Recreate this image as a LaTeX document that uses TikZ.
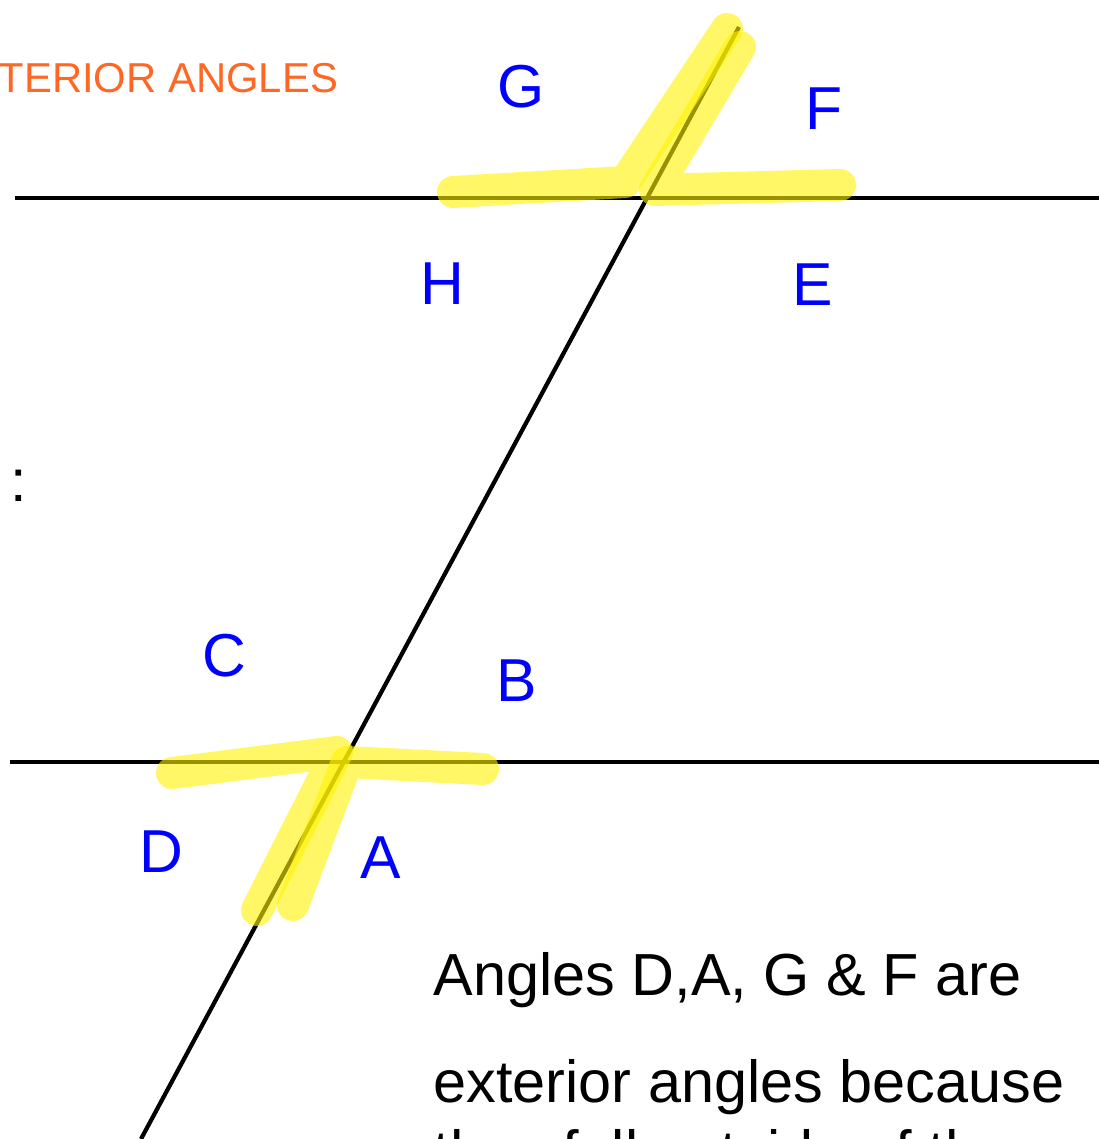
\documentclass[tikz,border=0pt]{standalone}
\usepackage{fontspec}
\setmainfont{Liberation Sans}
\definecolor{titleorange}{RGB}{255,104,36}
\definecolor{labelblue}{RGB}{0,0,255}
\tikzset{
  anglabel/.style={text=labelblue, font=\fontsize{34.5}{40}\selectfont, inner sep=0pt},
  marker/.style={yellow, opacity=0.6, line width=0.64cm, line cap=round, line join=round},
  bodytext/.style={anchor=base west, inner sep=0pt, font=\fontsize{33.8}{40}\selectfont}
}
\begin{document}
\begin{tikzpicture}[x=0.02cm, y=-0.02cm, thick]
    \useasboundingbox (0,0) rectangle (1099,1139);
    \clip (0,0) rectangle (1099,1139);

    % Parallel lines and transversal
    \coordinate (topL) at (15,198);
    \coordinate (topR) at (1099,198);
    \coordinate (botL) at (10,762);
    \coordinate (botR) at (1099,762);
    \coordinate (trTop) at (739,27);
    \coordinate (trBot) at (141,1139);
    \draw[line width=2.6pt] (topL) -- (topR);
    \draw[line width=2.6pt] (botL) -- (botR);
    \draw[line width=2.4pt] (trTop) -- (trBot);

    % Highlighted exterior angles (top)
    \draw[marker] (453,192) -- (625,182) -- (727,29);
    \draw[marker] (840,185) -- (655,190) -- (740,47);
    % Highlighted exterior angles (bottom)
    \draw[marker] (172,773) -- (337,752) -- (257,910);
    \draw[marker] (483,769) -- (347,762) -- (293,905);

    % Angle labels
    \node[anglabel] (G) at (521,87) {G};
    \node[anglabel] (F) at (824,109) {F};
    \node[anglabel] (H) at (442,284) {H};
    \node[anglabel] (E) at (813,285) {E};
    \node[anglabel] (C) at (224,656) {C};
    \node[anglabel] (B) at (517,681) {B};
    \node[anglabel] (D) at (161,852) {D};
    \node[anglabel] (A) at (381,858) {A};

    % Texts
    \node[anchor=base west, inner sep=0pt, text=titleorange,
          font=\fontsize{23.8}{28}\selectfont] (title) at (-2,92) {TERIOR ANGLES};
    \node[bodytext] (colon) at (10,501) {:};
    \node[bodytext] (line1) at (433,995) {Angles D,A, G \& F are};
    \node[bodytext] (line2) at (433,1102) {exterior angles because};
    \node[bodytext] (line3) at (433,1172) {they fall outside of the};
\end{tikzpicture}
\end{document}
